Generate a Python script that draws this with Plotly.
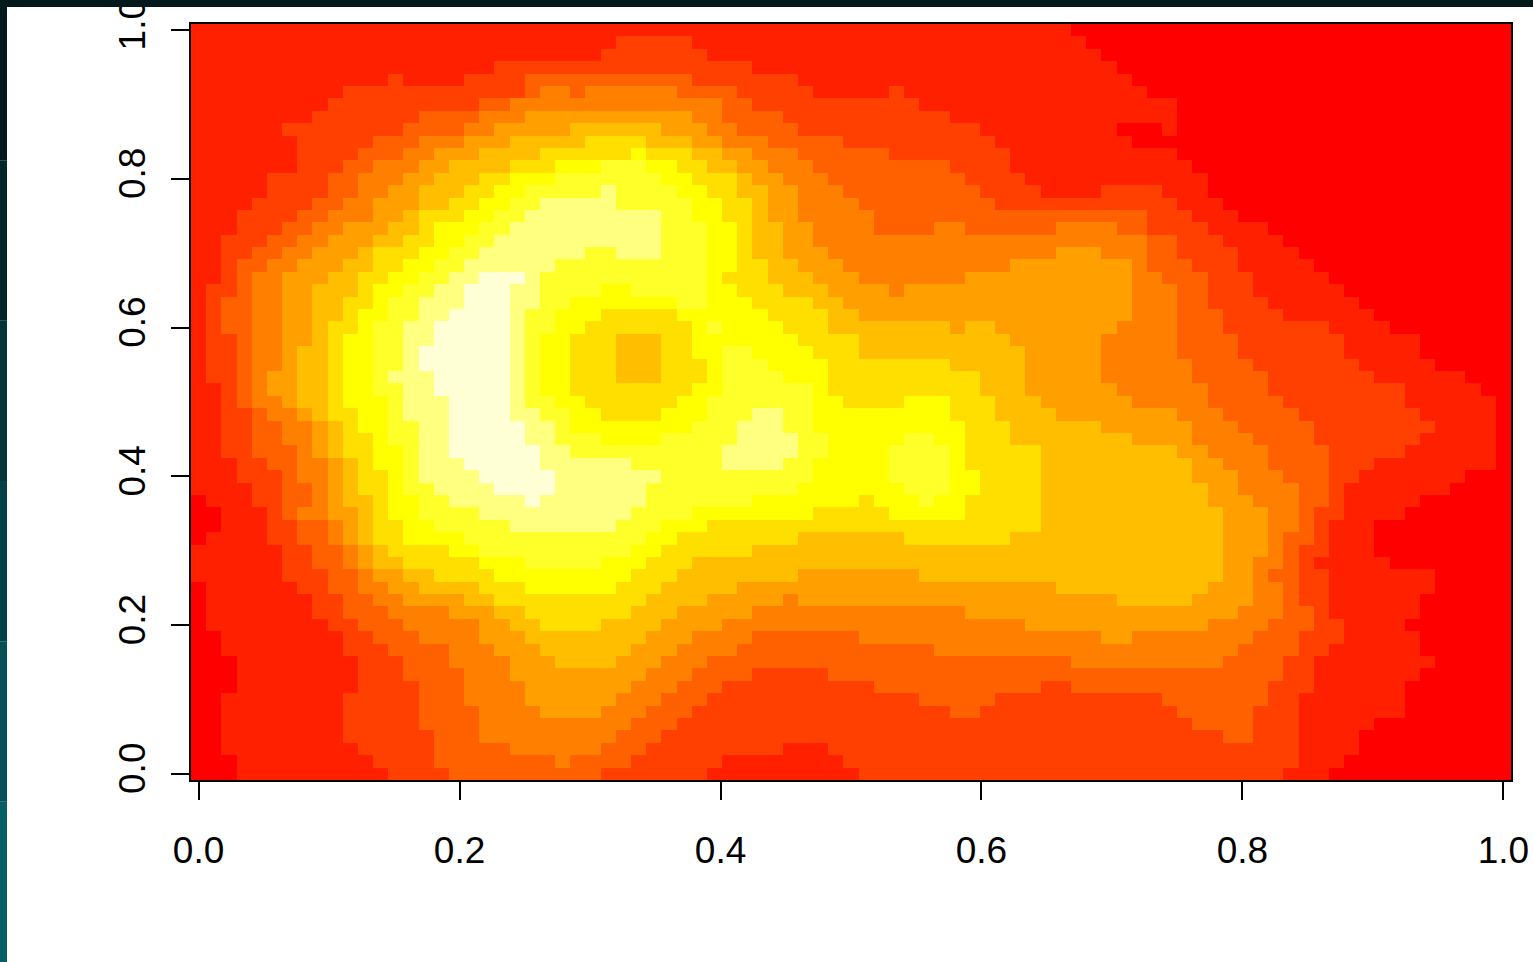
import plotly.graph_objects as go

# Colour levels (R heat colours, low to high)
level_colors = ["#FF0000", "#FF2000", "#FF4000", "#FF6000", "#FF8000", "#FF9F00",
                "#FFBF00", "#FFDF00", "#FFFF00", "#FFFF2A", "#FFFF80", "#FFFFD5"]
tick_values = [0.0, 0.2, 0.4, 0.6, 0.8, 1.0]
tick_labels = ["0.0", "0.2", "0.4", "0.6", "0.8", "1.0"]
n_cols = 87

# One line per image row, top to bottom. Each item is level:last_column (a=10, b=11).
rows_top_down = [
"1:57 0:86",
"1:27 2:32 1:58 0:86",
"1:26 2:33 1:59 0:86",
"1:19 2:36 1:60 0:86",
"1:12 2:13 1:17 2:21 3:32 2:39 1:61 0:86",
"1:9 2:21 3:22 4:24 3:25 4:31 3:35 2:40 1:45 2:46 1:62 0:86",
"1:8 2:18 3:20 4:34 3:36 2:47 1:64 0:86",
"1:7 2:14 3:18 4:21 5:32 4:34 3:38 2:49 1:64 0:86",
"1:5 2:13 3:17 4:19 5:24 6:30 5:33 4:35 3:39 2:51 1:60 0:63 1:64 0:86",
"1:6 2:11 3:14 4:17 5:20 6:25 7:29 6:32 5:34 4:37 3:42 2:52 1:61 0:86",
"1:6 2:10 3:13 4:15 5:18 6:22 7:28 8:29 7:32 6:34 5:36 4:39 3:45 2:53 1:64 0:86",
"1:6 2:9 3:11 4:14 5:16 6:20 7:23 8:26 9:29 8:31 7:33 6:35 5:37 4:40 3:49 2:53 1:65 0:86",
"1:4 2:8 3:10 4:13 5:15 6:18 7:20 8:23 9:30 8:32 7:35 6:36 5:38 4:41 3:50 2:54 1:66 0:86",
"1:4 2:8 3:10 4:12 5:14 6:17 7:19 8:21 9:26 a:27 9:31 8:33 7:35 6:37 5:39 4:42 3:51 2:55 1:59 2:63 1:66 0:86",
"1:3 2:7 3:9 4:11 5:14 6:16 7:18 8:20 9:22 a:27 9:32 8:34 7:36 6:37 5:39 4:43 3:52 2:64 1:67 0:86",
"1:2 2:6 3:8 4:11 5:13 6:14 7:17 8:19 9:21 a:30 9:32 8:34 7:36 6:37 5:39 4:44 3:62 2:65 1:68 0:86",
"1:2 2:5 3:7 4:9 5:12 6:14 7:15 8:18 9:20 a:30 9:33 8:35 7:36 6:38 5:40 4:44 3:48 4:50 3:56 4:60 3:62 2:66 1:70 0:86",
"1:1 2:4 3:6 4:8 5:11 6:13 7:15 8:17 9:19 a:30 9:33 8:35 7:36 6:38 5:40 4:62 3:64 2:67 1:71 0:86",
"1:1 2:3 3:5 4:7 5:10 6:11 7:14 8:16 9:18 a:25 9:27 a:30 9:33 8:35 7:36 6:38 5:41 4:56 5:59 4:62 3:64 2:68 1:72 0:86",
"1:1 2:2 3:4 4:6 5:9 6:11 7:13 8:15 9:17 a:23 9:33 8:35 7:37 6:39 5:42 4:53 5:61 4:62 3:65 2:68 1:73 0:86",
"1:1 2:2 3:3 4:5 5:8 6:10 7:12 8:14 9:16 a:18 b:21 a:22 9:33 8:34 7:37 6:40 5:43 4:50 5:61 4:63 3:66 2:69 1:74 0:86",
"1:0 2:2 3:3 4:5 5:7 6:10 7:11 8:13 9:15 a:17 b:20 a:22 9:26 8:28 9:33 8:35 7:38 6:41 5:45 4:46 5:61 4:64 3:66 2:69 1:75 0:86",
"1:0 2:1 3:3 4:5 5:7 6:9 7:11 8:12 9:14 a:17 b:20 a:22 9:24 8:31 9:33 8:36 7:40 6:42 5:61 4:64 3:66 2:70 1:76 0:86",
"1:0 2:1 3:3 4:5 5:7 6:9 7:10 8:12 9:14 a:16 b:20 a:21 9:23 8:26 7:31 8:37 7:41 6:43 5:61 4:64 3:67 2:71 1:77 0:86",
"1:0 2:1 3:3 4:5 5:7 6:8 7:10 8:11 9:13 a:15 b:20 a:21 9:23 8:25 7:32 8:33 9:34 8:38 7:41 6:49 5:50 6:52 5:60 4:64 3:67 2:74 1:78 0:86",
"1:0 2:2 3:3 4:5 5:7 6:8 7:9 8:11 9:13 a:15 b:20 a:21 9:22 8:24 7:27 6:30 7:32 8:39 7:43 6:53 5:59 4:64 3:68 2:75 1:80 0:86",
"1:0 2:2 3:3 4:5 5:6 6:8 7:9 8:11 9:13 a:14 b:20 a:21 9:22 8:24 7:27 6:30 7:32 8:34 9:36 8:40 7:43 6:54 5:59 4:64 3:68 2:75 1:80 0:86",
"1:0 2:2 3:3 4:5 5:6 6:8 7:9 8:11 9:13 a:14 b:20 a:21 9:22 8:24 7:27 6:30 7:33 8:34 9:37 8:41 7:49 6:54 5:59 4:65 3:69 2:76 1:81 0:86",
"1:0 2:2 3:3 4:4 5:6 6:8 7:9 8:11 9:12 a:15 b:20 a:21 9:22 8:24 7:27 6:30 7:33 8:34 9:38 8:41 7:51 6:54 5:59 4:65 3:70 2:77 1:83 0:86",
"1:1 2:2 3:3 4:4 5:6 6:8 7:9 8:11 9:13 a:15 b:20 a:21 9:22 8:24 7:32 8:34 9:40 8:41 7:51 6:54 5:60 4:66 3:70 2:79 1:84 0:86",
"1:1 2:2 3:3 4:5 5:6 6:8 7:9 8:12 9:13 a:16 b:20 a:21 9:23 8:25 7:31 8:33 9:40 8:42 7:46 8:49 7:52 6:55 5:61 4:66 3:71 2:79 1:85 0:86",
"1:1 2:3 3:4 4:6 5:7 6:8 7:10 8:12 9:13 a:16 b:20 a:22 9:24 8:26 7:30 8:33 9:36 a:38 9:40 8:49 7:52 6:56 5:64 4:67 3:72 2:80 1:85 0:86",
"1:1 2:3 3:5 4:7 5:8 6:9 7:10 8:12 9:14 a:16 b:21 a:23 9:24 8:32 9:35 a:38 9:40 8:50 7:53 6:59 5:65 4:68 3:73 2:81 1:85 0:86",
"1:1 2:3 3:5 4:7 5:8 6:9 7:11 8:12 9:14 a:16 b:21 a:23 9:26 8:30 9:35 a:39 9:41 8:46 9:48 8:50 7:53 6:61 5:65 4:69 3:73 2:80 1:85 0:86",
"1:1 2:3 3:6 4:7 5:8 6:9 7:11 8:13 9:14 a:16 b:22 a:24 9:34 a:39 9:41 8:45 9:49 8:50 7:55 6:64 5:66 4:70 3:74 2:79 1:85 0:86",
"1:2 2:4 3:6 4:8 5:9 6:10 7:11 8:13 9:14 a:17 b:22 a:28 9:34 a:38 9:40 8:45 9:49 8:50 7:55 6:65 5:67 4:70 3:74 2:77 1:85 0:86",
"1:2 2:5 3:6 4:8 5:9 6:10 7:12 8:13 9:14 a:18 b:23 a:30 9:40 8:45 9:49 8:51 7:55 6:65 5:68 4:71 3:74 2:76 1:83 0:86",
"1:3 2:5 3:7 4:8 5:9 6:10 7:12 8:13 9:15 a:19 b:23 a:29 9:39 8:46 9:49 8:51 7:55 6:66 5:68 4:72 3:74 2:75 1:82 0:86",
"0:0 1:3 2:5 3:7 4:8 5:9 6:11 7:12 8:14 9:16 a:21 b:22 a:29 9:36 8:43 7:44 8:47 9:48 8:50 7:55 6:66 5:69 4:72 3:74 2:75 1:80 0:86",
"0:1 1:4 2:5 3:6 4:8 5:10 6:11 7:12 8:14 9:18 a:28 9:32 8:40 7:45 8:50 7:55 6:67 5:70 4:72 3:73 2:75 1:79 0:86",
"0:1 1:4 2:6 3:8 4:9 5:10 6:11 7:13 8:15 9:20 a:27 9:30 8:33 7:55 6:67 5:70 4:72 3:73 2:74 1:77 0:86",
"0:0 1:4 2:6 3:8 4:9 5:10 6:11 7:13 8:17 9:29 8:31 7:39 6:46 7:53 6:67 5:70 4:71 3:73 2:74 1:77 0:86",
"1:5 2:7 3:9 4:10 5:11 6:12 7:16 8:18 9:28 8:30 7:36 6:67 5:70 4:71 3:72 2:74 1:77 0:86",
"1:5 2:7 3:9 4:10 5:11 6:13 7:18 8:21 9:26 8:29 7:32 6:67 5:69 4:71 3:72 2:73 1:78 0:86",
"1:5 2:8 3:10 4:11 5:13 6:15 7:19 8:28 7:31 6:39 5:47 6:67 5:69 4:70 3:72 2:74 1:81 0:86",
"0:0 1:6 2:8 3:10 4:12 5:14 6:18 7:21 8:27 7:30 6:35 5:56 6:66 5:69 4:71 3:72 2:74 1:81 0:86",
"0:0 1:7 2:9 3:11 4:13 5:17 6:19 7:29 6:33 5:38 4:39 5:60 6:65 5:69 4:71 3:72 2:74 1:80 0:86",
"0:0 1:7 2:9 3:12 4:16 5:19 6:21 7:28 6:31 5:36 4:50 5:68 4:71 3:73 2:74 1:80 0:86",
"0:0 1:8 2:10 3:13 4:18 5:20 6:22 7:26 6:30 5:34 4:54 5:66 4:70 3:73 2:75 1:79 0:86",
"0:1 1:9 2:11 3:14 4:18 5:21 6:29 5:32 4:36 3:43 4:59 5:61 4:69 3:72 2:75 1:80 0:86",
"0:1 1:9 2:12 3:16 4:19 5:22 6:28 5:31 4:35 3:48 4:68 3:72 2:74 1:80 0:86",
"0:2 1:10 2:13 3:16 4:20 5:23 6:27 5:30 4:33 3:57 4:67 3:71 2:73 1:81 0:86",
"0:2 1:10 2:13 3:17 4:20 5:29 4:32 3:36 2:41 3:71 2:73 1:80 0:86",
"0:2 1:10 2:14 3:17 4:21 5:28 4:31 3:34 2:44 3:55 2:57 3:70 2:73 1:79 0:86",
"0:1 1:9 2:14 3:17 4:21 5:27 4:30 3:33 2:47 3:52 2:63 3:70 2:72 1:79 0:86",
"0:1 1:9 2:14 3:18 4:22 5:26 4:29 3:32 2:49 3:51 2:64 3:69 2:72 1:79 0:86",
"0:1 1:9 2:14 3:18 4:28 3:31 2:65 3:69 2:72 1:77 0:86",
"0:1 1:9 2:15 3:18 4:27 3:30 2:67 3:69 2:72 1:76 0:86",
"0:1 1:10 2:15 3:20 4:26 3:29 2:38 1:41 2:72 1:76 0:86",
"0:2 1:11 2:15 3:23 4:24 3:28 2:34 1:42 2:72 1:75 0:86",
"0:2 1:12 2:16 3:26 2:33 1:43 2:71 1:74 0:86",
]


def decode(line):
    out, start = [], 0
    for item in line.split():
        lev, last = item.split(":")
        last = int(last)
        out += [int(lev, 16)] * (last + 1 - start)
        start = last + 1
    return out


z = [decode(r) for r in reversed(rows_top_down)]
n_rows = len(z)
x = [i / (n_cols - 1) for i in range(n_cols)]
y = [j / (n_rows - 1) for j in range(n_rows)]

n = len(level_colors)
scale = []
for i, c in enumerate(level_colors):
    scale += [[i / n, c], [(i + 1) / n, c]]

fig = go.Figure(go.Heatmap(x=x, y=y, z=z, zmin=-0.5, zmax=11.5, colorscale=scale,
                           showscale=False, hoverinfo="skip"))

axis_font = dict(family="Liberation Sans, Arial, sans-serif", size=37, color="#000000")
dx, dy = 0.5 / (n_cols - 1), 0.5 / (n_rows - 1)
fig.update_xaxes(range=[-dx, 1 + dx], tickvals=tick_values, ticktext=tick_labels,
                 ticks="outside", ticklen=18, tickwidth=2, tickcolor="#000000",
                 showline=True, linecolor="#000000", linewidth=2, mirror=True, automargin=False,
                 showgrid=False, zeroline=False, tickfont=axis_font, ticklabelstandoff=19,
                 ticklabeloverflow="allow")
fig.update_yaxes(range=[-dy, 1 + dy], tickvals=tick_values, ticktext=tick_labels,
                 ticks="outside", ticklen=18, tickwidth=2, tickcolor="#000000",
                 showline=True, linecolor="#000000", linewidth=2, mirror=True, automargin=False,
                 showgrid=False, zeroline=False, tickfont=axis_font, tickangle=-90,
                 ticklabelstandoff=11, ticklabeloverflow="allow")

# dark window edge of the screenshot along the top and left
W, H = 1533, 962
L, R, T, B = 191, 22, 24, 182
pw, ph = W - L - R, H - T - B
def px(v): return (v - L) / pw
def py(v): return (H - B - v) / ph
edge_colors = ["#03191C", "#03262A", "#043338", "#054247", "#065056", "#075E64"]
shapes = [dict(type="rect", xref="paper", yref="paper", x0=px(0), x1=px(W), y0=py(0), y1=py(7),
               fillcolor="#03191C", line_width=0, layer="above")]
for k, c in enumerate(edge_colors):
    shapes.append(dict(type="rect", xref="paper", yref="paper", x0=px(0), x1=px(7),
                       y0=py(H * k / len(edge_colors)), y1=py(H * (k + 1) / len(edge_colors)),
                       fillcolor=c, line_width=0, layer="above"))

fig.update_layout(width=W, height=H, autosize=False, margin=dict(l=L, r=R, t=T, b=B),
                  paper_bgcolor="#FFFFFF", plot_bgcolor="#FFFFFF", shapes=shapes)

fig.write_html("out.html", config={"displayModeBar": False},
               post_script="document.body.style.margin='0';document.body.style.overflow='hidden';")
